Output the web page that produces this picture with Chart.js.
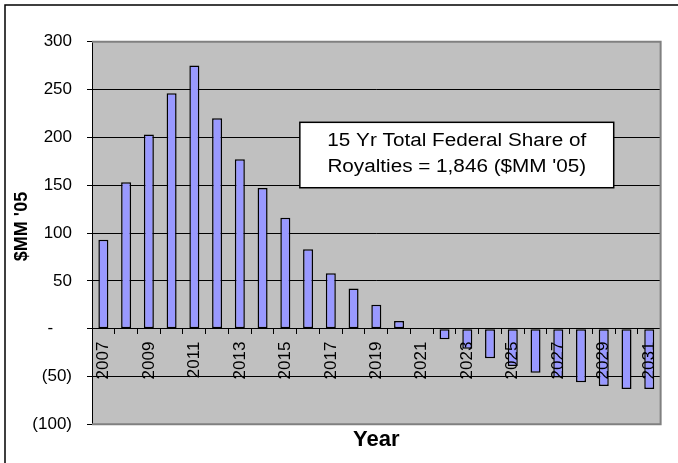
<!DOCTYPE html>
<html>
<head>
<meta charset="utf-8">
<script src="https://cdn.jsdelivr.net/npm/chart.js@4/dist/chart.umd.min.js"></script>
<style>
  html, body { margin: 0; padding: 0; background: #ffffff; }
  #wrap { width: 678px; height: 463px; }
</style>
</head>
<body>
<div id="wrap"><canvas id="c" width="678" height="463"></canvas></div>
<script>
// Federal share of royalties by year, $MM (2005 dollars)
const years = ['2007','2008','2009','2010','2011','2012','2013','2014','2015','2016',
               '2017','2018','2019','2020','2021','2022','2023','2024','2025','2026',
               '2027','2028','2029','2030','2031'];
const federalShare = [93, 153, 203, 246, 275, 220, 177, 147, 116, 83,
                      58, 42, 25, 8, 0, -11, -21, -31, -39, -46,
                      -51, -56, -60, -63, -63];
const yTicks = [-100, -50, 0, 50, 100, 150, 200, 250, 300];
const noteLines = ['15 Yr Total Federal Share of', "Royalties = 1,846 ($MM '05)"];
const yAxisTitle = "$MM '05";
const xAxisTitle = 'Year';

const FONT = "'Liberation Sans', Arial, Helvetica, sans-serif";

// accounting-style tick text: "-" for zero, parentheses for negatives
function accounting(v) {
  if (v === 0) return '-\u2007\u2007';
  if (v < 0) return '(' + Math.abs(v) + ')';
  return String(v);
}

const frame = {
  id: 'frame',
  beforeDraw(chart) {
    const { ctx, chartArea: a } = chart;
    ctx.save();
    ctx.fillStyle = '#ffffff';
    ctx.fillRect(0, 0, chart.width, chart.height);
    ctx.fillStyle = '#C0C0C0';
    ctx.fillRect(a.left, a.top, a.right - a.left, a.bottom - a.top);
    ctx.restore();
  },
  afterDraw(chart) {
    const { ctx, chartArea: a } = chart;
    ctx.save();
    // plot-area edge (top, right, bottom)
    ctx.strokeStyle = '#808080';
    ctx.lineWidth = 2;
    ctx.beginPath();
    ctx.moveTo(a.left, a.top);
    ctx.lineTo(a.right, a.top);
    ctx.lineTo(a.right, a.bottom);
    ctx.lineTo(a.left, a.bottom);
    ctx.stroke();
    // outer chart border
    ctx.strokeStyle = '#000000';
    ctx.lineWidth = 1.5;
    ctx.strokeRect(5, 5, chart.width + 20, chart.height + 20);

    // vertical axis title
    ctx.fillStyle = '#000000';
    ctx.font = 'bold 18px ' + FONT;
    ctx.textAlign = 'center';
    ctx.textBaseline = 'middle';
    ctx.save();
    ctx.translate(22.5, a.top + (a.bottom - a.top) * 0.483);
    ctx.rotate(-Math.PI / 2);
    ctx.fillText(yAxisTitle, 0, 0);
    ctx.restore();

    // note box inside the plot
    const w = a.right - a.left, h = a.bottom - a.top;
    const bx = a.left + w * 0.3655, by = a.top + h * 0.2107;
    const bw = w * 0.552, bh = h * 0.171;
    ctx.fillStyle = '#ffffff';
    ctx.fillRect(bx, by, bw, bh);
    ctx.strokeStyle = '#000000';
    ctx.lineWidth = 1.5;
    ctx.strokeRect(bx, by, bw, bh);
    ctx.fillStyle = '#000000';
    ctx.font = '18px ' + FONT;
    const cx = bx + bw / 2;
    noteLines.forEach((t, i) => {
      ctx.save();
      ctx.translate(cx, by + bh * (0.28 + 0.41 * i));
      ctx.scale(1.15, 1);
      ctx.fillText(t, 0, 0);
      ctx.restore();
    });
    ctx.restore();
  }
};

new Chart(document.getElementById('c'), {
  type: 'bar',
  data: {
    labels: years,
    datasets: [{
      data: federalShare,
      backgroundColor: '#9999FF',
      borderColor: '#000000',
      borderWidth: 1.5,
      borderSkipped: false,
      barPercentage: 0.44,
      categoryPercentage: 1
    }]
  },
  options: {
    responsive: false,
    animation: false,
    devicePixelRatio: 1,
    layout: { padding: { left: 2, top: 41.7, right: 15, bottom: 0 } },
    plugins: {
      legend: { display: false },
      tooltip: { enabled: false },
      title: {
        display: true,
        position: 'bottom',
        fullSize: false,
        text: xAxisTitle,
        color: '#000000',
        font: { family: FONT, size: 22, weight: 'bold', lineHeight: 1.2 },
        padding: { top: 2.5, bottom: 9.8 }
      }
    },
    scales: {
      x: {
        position: { y: 0 },
        offset: true,
        grid: {
          offset: true,
          drawOnChartArea: false,
          drawTicks: true,
          tickLength: 5,
          color: '#000000',
          z: 1
        },
        border: { display: true, color: '#000000', width: 1, z: 1 },
        ticks: {
          autoSkip: false,
          minRotation: 90,
          maxRotation: 90,
          padding: 8,
          z: 1,
          color: '#000000',
          font: { family: FONT, size: 17 },
          callback: function (v, i) { return i % 2 === 0 ? years[i] : ''; }
        }
      },
      y: {
        min: -100,
        max: 300,
        afterFit(scale) { scale.width = 90; },
        afterBuildTicks(scale) { scale.ticks = yTicks.map(v => ({ value: v })); },
        grid: {
          color: '#000000',
          lineWidth: 1,
          drawTicks: true,
          tickLength: 5
        },
        border: { display: true, color: '#000000', width: 1 },
        ticks: {
          padding: 15,
          color: '#000000',
          font: { family: FONT, size: 17 },
          callback: v => accounting(v)
        },
        title: { display: false }
      }
    }
  },
  plugins: [frame]
});
</script>
</body>
</html>
